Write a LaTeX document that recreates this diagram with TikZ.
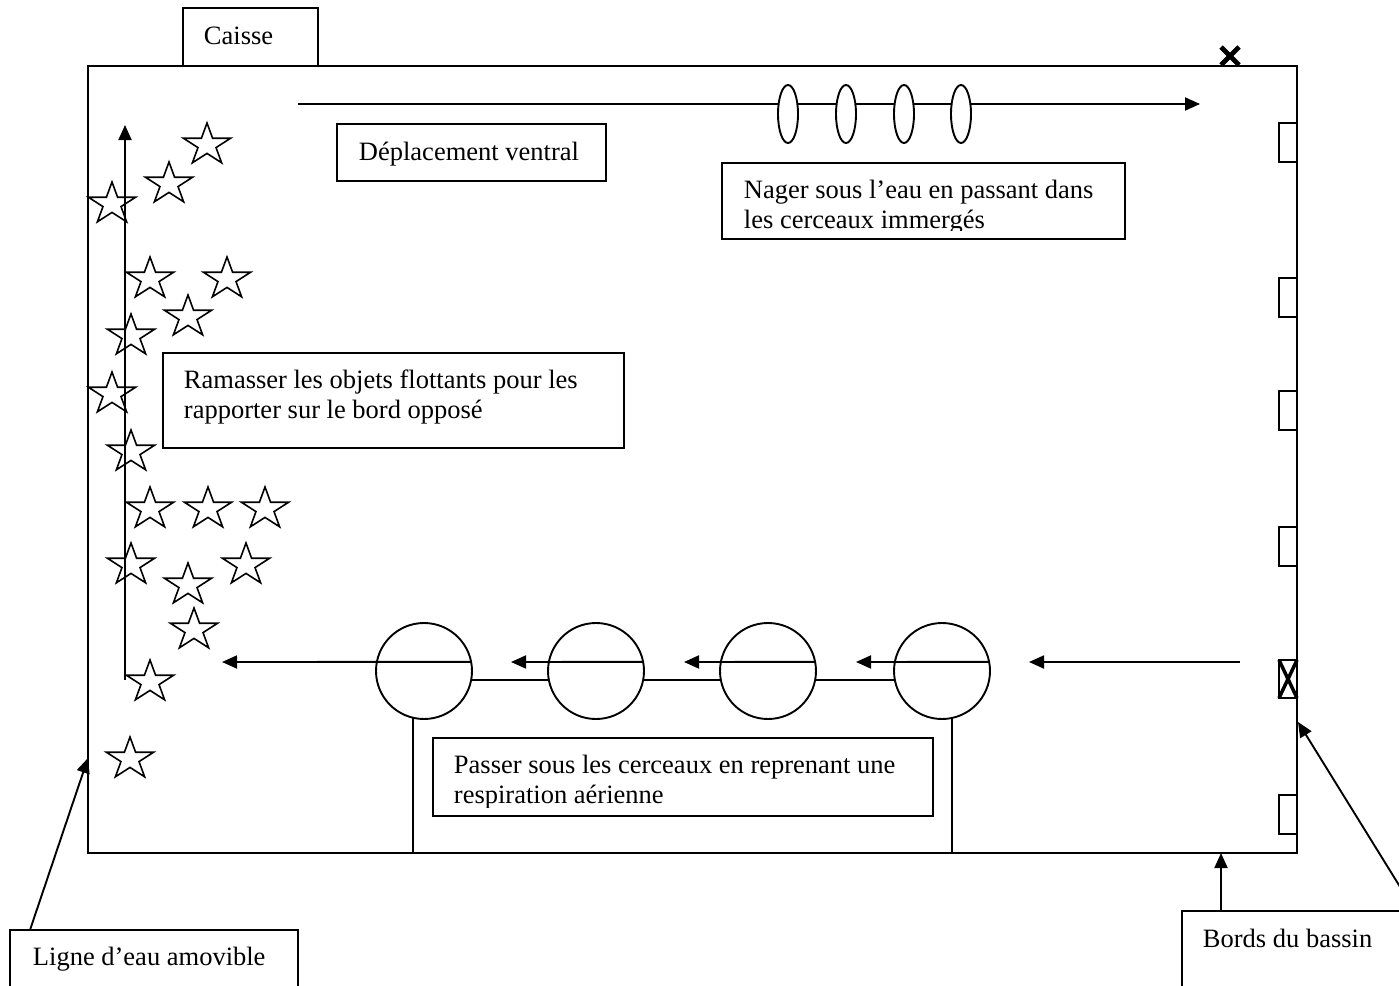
\documentclass[tikz,border=0pt]{standalone}
\usepackage{fontspec}
\setmainfont{Liberation Serif}
\usetikzlibrary{arrows.meta,calc,shapes.geometric}
\begin{document}
\begin{tikzpicture}[x=1pt,y=-1pt, line width=1.9pt,
 box/.style={draw, rectangle, inner sep=0pt, outer sep=0pt, anchor=north west},
 lbl/.style={anchor=base west, inner sep=0pt, font=\fontsize{26.5}{30.5}\selectfont},
 arr/.style={-{Triangle[length=15pt,width=13pt]}},
 hoop/.style={draw, ellipse, fill=white, inner sep=0pt, outer sep=0pt, minimum width=20pt, minimum height=58pt},
 ring/.style={draw, circle, inner sep=0pt, outer sep=0pt, minimum size=96pt},
 tab/.style={box, minimum width=18pt, minimum height=39pt},
 starpic/.pic={\draw[line width=1.6pt, xscale=1.13] (270:22) -- (306:8.4) -- (342:22) -- (18:8.4) -- (54:22) -- (90:8.4) -- (126:22) -- (162:8.4) -- (198:22) -- (234:8.4) -- cycle;}]
\useasboundingbox (0,0) rectangle (1399,985);

% pool
\node[box, minimum width=1209pt, minimum height=787pt] (pool) at (88,66) {};

% caisse
\node[box, fill=white, minimum width=135pt, minimum height=58pt] (caisse) at (183,8) {};
\node[lbl] (caisseT) at ($(caisse.north west)+(20,36)$) {Caisse};

% top X mark
\coordinate (xm) at (1230,56);
\draw[line width=4.8pt] ($(xm)+(-9,-9)$) -- ($(xm)+(9,9)$) ($(xm)+(9,-9)$) -- ($(xm)+(-9,9)$);

% top line with hoops
\coordinate (ts) at (298,104);
\coordinate (te) at (1200,104);
\draw[arr] (ts) -- (te);
\node[hoop] (e1) at (788,114) {};
\node[hoop] (e2) at (846,114) {};
\node[hoop] (e3) at (904,114) {};
\node[hoop] (e4) at (961,114) {};

% deplacement ventral
\node[box, minimum width=269pt, minimum height=57pt] (depl) at (337,124) {};
\node[lbl] (deplT) at ($(depl.north west)+(21,36)$) {Déplacement ventral};

% nager box
\node[box, minimum width=403pt, minimum height=76pt] (nager) at (722,163) {};
\begin{scope}
\clip (nager.north west) rectangle ($(nager.south east)+(0,-9)$);
\node[lbl] (nagerA) at ($(nager.north west)+(21,35)$) {Nager sous l’eau en passant dans};
\node[lbl] (nagerB) at ($(nager.north west)+(21,65.5)$) {les cerceaux immergés};
\end{scope}

% right side tabs
\node[tab] (r1) at (1279,123) {};
\node[tab] (r2) at (1279,278) {};
\node[tab] (r3) at (1279,391) {};
\node[tab] (r4) at (1279,527) {};
\node[tab] (r5) at (1279,795) {};
\node[tab, minimum height=38pt] (rx) at (1279,660) {};
\draw[line width=3.5pt] (rx.north west) -- (rx.south east) (rx.north east) -- (rx.south west);

% vertical line with arrow
\coordinate (vs) at (125,680);
\coordinate (ve) at (125,125);
\draw[arr] (vs) -- (ve);

% ramasser box
\node[box, minimum width=461pt, minimum height=95pt] (ram) at (163,353) {};
\node[lbl] (ramA) at ($(ram.north west)+(20,35)$) {Ramasser les objets flottants pour les};
\node[lbl] (ramB) at ($(ram.north west)+(20,65.5)$) {rapporter sur le bord opposé};

% stars
\foreach \sx/\sy in {207/143,169/182,112/202,150/277,227/277,188/315,131/334,112/392,131/450,150/507,208/507,265/507,131/563,188/583,246/563,194/628,150/680,130/757}
  \pic at (\sx,\sy+2) {starpic};

% bottom rings
\node[ring] (c1) at (424,671) {};
\node[ring] (c2) at (596,671) {};
\node[ring] (c3) at (768,671) {};
\node[ring] (c4) at (942,671) {};
\draw (c1.-11) -- (c2.191);
\draw (c2.-11) -- (c3.191);
\draw (c3.-11) -- (c4.191);
\draw (c1.257) -- (c1.257 |- pool.south);
\draw (c4.282) -- (c4.282 |- pool.south);

\coordinate (bs) at (1240,662);
\coordinate (be) at (1029,662);
\coordinate (a4) at (856,662);
\coordinate (a3) at (684,662);
\coordinate (a2) at (511,662);
\coordinate (a1) at (222,662);
\draw[arr] (bs) -- (be);
\draw[arr] (c4.11) -- (a4);
\draw[arr] (c3.11) -- (a3);
\draw[arr] (c2.11) -- (a2);
\draw[arr] (c1.11) -- (a1);

% passer box
\node[box, minimum width=500pt, minimum height=78pt] (pass) at (433,738) {};
\begin{scope}
\clip (pass.north west) rectangle ($(pass.south east)+(0,-9)$);
\node[lbl] (passA) at ($(pass.north west)+(20,35)$) {Passer sous les cerceaux en reprenant une};
\node[lbl] (passB) at ($(pass.north west)+(20,65.5)$) {respiration aérienne};
\end{scope}

% ligne d'eau
\node[box, minimum width=288pt, minimum height=80pt] (ligne) at (10,930) {};
\node[lbl] (ligneT) at ($(ligne.north west)+(22,35)$) {Ligne d’eau amovible};
\coordinate (lA) at ($(ligne.north west)+(20,0)$);
\coordinate (lB) at (88,758);
\draw[arr] (lA) -- (lB);

% bords du bassin
\node[box, minimum width=233pt, minimum height=100pt] (bords) at (1182,911) {};
\node[lbl] (bordsT) at ($(bords.north west)+(20,36)$) {Bords du bassin};
\coordinate (bA) at ($(bords.north west)+(39,0)$);
\draw[arr] (bA) -- (bA |- pool.south);
\coordinate (bT) at (1298,722);
\draw[arr] (bords.north east) -- (bT);
\end{tikzpicture}
\end{document}
